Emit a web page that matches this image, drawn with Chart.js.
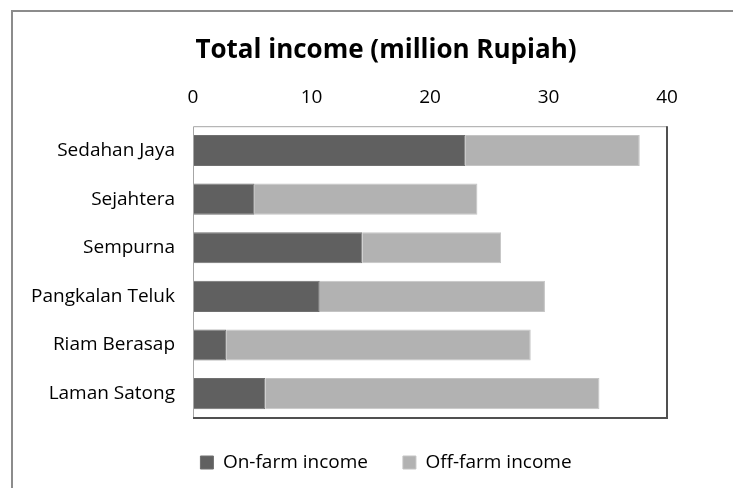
<!DOCTYPE html>
<html>
<head>
<meta charset="utf-8">
<script src="https://cdn.jsdelivr.net/npm/chart.js@4"></script>
<style>
  html, body { margin: 0; padding: 0; background: #fff; overflow: hidden; }
  #frame { position: absolute; left: 11px; top: 10px; width: 800px; height: 600px; border: 2px solid #8c8c8c; }
  #incomeChart { position: absolute; left: 0; top: 0; }
</style>
</head>
<body>
<div id="frame"></div>
<canvas id="incomeChart" width="733" height="488"></canvas>
<script>
var villages = ['Sedahan Jaya', 'Sejahtera', 'Sempurna', 'Pangkalan Teluk', 'Riam Berasap', 'Laman Satong'];
var onFarm = [23.0, 5.2, 14.3, 10.7, 2.8, 6.1];
var offFarm = [14.7, 18.8, 11.7, 19.0, 25.7, 28.2];
var xTicks = [0, 10, 20, 30, 40];

var fontFamily = "'Open Sans', sans-serif";

// box around the plot area, darker on the right and bottom edges
var plotFrame = {
    id: 'plotFrame',
    afterDatasetsDraw: function(chart) {
        var a = chart.chartArea;
        var ctx = chart.ctx;
        ctx.save();
        ctx.lineWidth = 1;
        ctx.strokeStyle = '#a6a6a6';
        ctx.beginPath();
        ctx.moveTo(a.left + 0.5, a.bottom);
        ctx.lineTo(a.left + 0.5, a.top + 0.5);
        ctx.lineTo(a.right, a.top + 0.5);
        ctx.stroke();
        ctx.lineWidth = 2;
        ctx.strokeStyle = '#505050';
        ctx.beginPath();
        ctx.moveTo(a.right, a.top);
        ctx.lineTo(a.right, a.bottom);
        ctx.lineTo(a.left, a.bottom);
        ctx.stroke();
        ctx.restore();
    }
};

var ctx = document.getElementById('incomeChart').getContext('2d');
var incomeChart = new Chart(ctx, {
    type: 'bar',
    data: {
        labels: villages,
        datasets: [{
            label: 'On-farm income',
            data: onFarm,
            backgroundColor: '#606060',
            borderColor: '#707070',
            borderWidth: 1,
            barPercentage: 0.64,
            categoryPercentage: 1
        }, {
            label: 'Off-farm income',
            data: offFarm,
            backgroundColor: '#b2b2b2',
            borderColor: '#c4c4c4',
            borderWidth: 1,
            barPercentage: 0.64,
            categoryPercentage: 1
        }]
    },
    options: {
        indexAxis: 'y',
        responsive: false,
        animation: false,
        layout: { padding: { top: 21, right: 66, bottom: 6, left: 105 } },
        scales: {
            x: {
                position: 'top',
                stacked: true,
                min: 0,
                max: 40,
                afterBuildTicks: function(scale) {
                    scale.ticks = xTicks.map(function(v) { return { value: v }; });
                },
                grid: { display: false, drawTicks: false },
                border: { display: false },
                ticks: { color: '#000', padding: 17, maxRotation: 0, font: { family: fontFamily, size: 19 } },
                afterFit: function(scale) { scale.height = 50; }
            },
            y: {
                stacked: true,
                grid: { display: false, drawTicks: false },
                border: { display: false },
                ticks: { color: '#000', padding: 18, font: { family: fontFamily, size: 19 } },
                afterFit: function(scale) {
                    scale.width = 88;
                    // long village names reach into the left padding, so don't clip them
                    scale._computeLabelArea = function() { return undefined; };
                }
            }
        },
        plugins: {
            title: {
                display: true,
                text: 'Total income (million Rupiah)',
                color: '#000',
                font: { family: fontFamily, size: 26, weight: 'bold' },
                padding: { top: 14, bottom: 10 }
            },
            legend: {
                position: 'bottom',
                labels: {
                    color: '#000',
                    boxWidth: 13,
                    boxHeight: 13,
                    padding: 35,
                    font: { family: fontFamily, size: 19 }
                }
            },
            tooltip: { enabled: false }
        }
    },
    plugins: [plotFrame]
});
</script>
</body>
</html>
